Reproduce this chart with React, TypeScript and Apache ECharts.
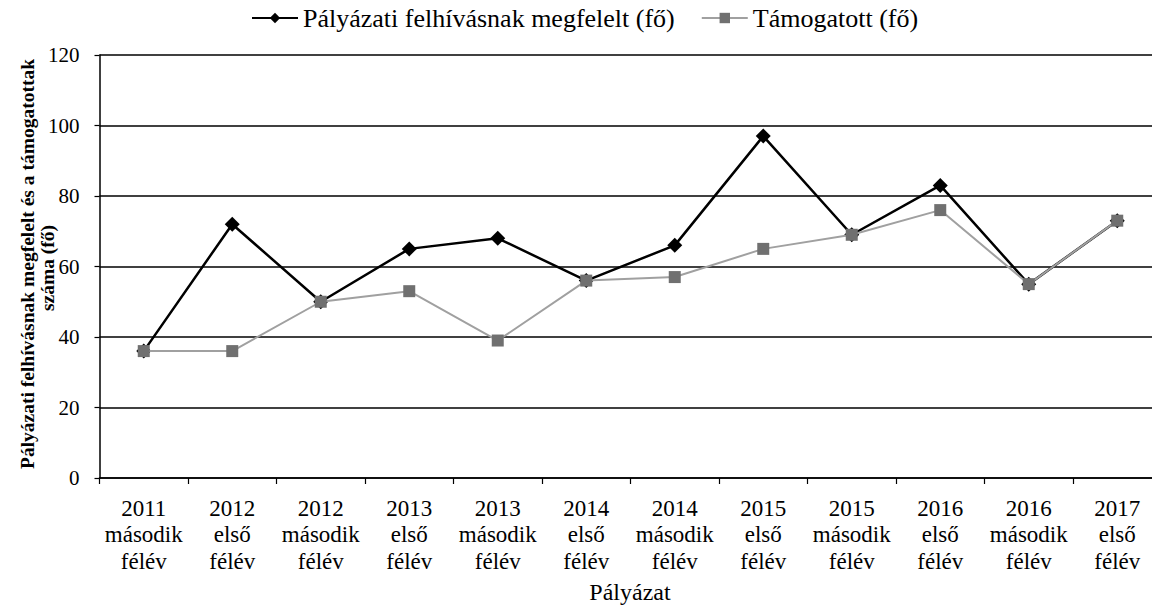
import React, { useEffect, useRef } from "react";
import * as echarts from "echarts";

const categories = [
  "2011\nmásodik\nfélév",
  "2012\nelső\nfélév",
  "2012\nmásodik\nfélév",
  "2013\nelső\nfélév",
  "2013\nmásodik\nfélév",
  "2014\nelső\nfélév",
  "2014\nmásodik\nfélév",
  "2015\nelső\nfélév",
  "2015\nmásodik\nfélév",
  "2016\nelső\nfélév",
  "2016\nmásodik\nfélév",
  "2017\nelső\nfélév",
];
const eligible = [36, 72, 50, 65, 68, 56, 66, 97, 69, 83, 55, 73];
const supported = [36, 36, 50, 53, 39, 56, 57, 65, 69, 76, 55, 73];
const seriesNames = ["Pályázati felhívásnak megfelelt (fő)", "Támogatott (fő)"];
const yAxisTitleLines = ["Pályázati felhívásnak megfelelt és a támogatottak", "száma (fő)"];
const xAxisTitle = "Pályázat";

const FONT = "'Liberation Serif', serif";

export default function App() {
  const ref = useRef<HTMLDivElement>(null);
  useEffect(() => {
    if (!ref.current) return;
    const chart = echarts.init(ref.current, null, { renderer: "svg" });
    chart.setOption({
      animation: false,
      backgroundColor: "#ffffff",
      textStyle: { fontFamily: FONT, color: "#000" },
      legend: {
        top: 0,
        left: 246,
        itemWidth: 46,
        itemHeight: 13,
        itemGap: 26,
        textStyle: { fontFamily: FONT, fontSize: 26, color: "#000" },
        data: seriesNames,
      },
      grid: {
        left: 99.5,
        right: -9.5,
        top: 55,
        bottom: 130,
        containLabel: false,
        outerBoundsMode: "none",
      },
      xAxis: {
        type: "category",
        data: categories,
        boundaryGap: true,
        axisLine: { show: true, lineStyle: { color: "#000", width: 1.5 } },
        axisTick: { show: true, alignWithLabel: false, length: 6, lineStyle: { color: "#000", width: 1.2 } },
        axisLabel: {
          interval: 0,
          fontFamily: FONT,
          fontWeight: "normal",
          fontSize: 23,
          lineHeight: 26.5,
          color: "#000",
          margin: 17,
        },
        splitLine: { show: false },
      },
      yAxis: {
        type: "value",
        min: 0,
        max: 120,
        interval: 20,
        axisLine: { show: true, lineStyle: { color: "#000", width: 1.5 } },
        axisTick: { show: true, inside: false, length: 5, lineStyle: { color: "#000", width: 1.2 } },
        axisLabel: { fontFamily: FONT, fontWeight: "normal", fontSize: 21, color: "#000", margin: 20 },
        splitLine: { show: true, lineStyle: { color: "#000", width: 1.5 } },
      },
      graphic: [
        {
          type: "text",
          x: 27,
          y: 264,
          rotation: Math.PI / 2,
          style: {
            text: yAxisTitleLines[0],
            font: `bold 19.5px ${FONT}`,
            fill: "#000",
            textAlign: "center",
            textVerticalAlign: "middle",
          },
        },
        {
          type: "text",
          x: 47,
          y: 268,
          rotation: Math.PI / 2,
          style: {
            text: yAxisTitleLines[1],
            font: `bold 19.5px ${FONT}`,
            fill: "#000",
            textAlign: "center",
            textVerticalAlign: "middle",
          },
        },
        {
          type: "text",
          x: 630,
          y: 592,
          style: {
            text: xAxisTitle,
            font: `24px ${FONT}`,
            fill: "#000",
            textAlign: "center",
            textVerticalAlign: "middle",
          },
        },
      ],
      series: [
        {
          name: seriesNames[0],
          type: "line",
          data: eligible,
          symbol: "diamond",
          symbolSize: 15,
          lineStyle: { color: "#000", width: 2.5 },
          itemStyle: { color: "#000" },
          z: 2,
        },
        {
          name: seriesNames[1],
          type: "line",
          data: supported,
          symbol: "rect",
          symbolSize: 12,
          lineStyle: { color: "#a0a0a0", width: 2 },
          itemStyle: { color: "#707070" },
          z: 3,
        },
      ],
    });
    return () => chart.dispose();
  }, []);
  return <div ref={ref} style={{ width: 1152, height: 608, position: "absolute", left: 0, top: 0 }} />;
}
